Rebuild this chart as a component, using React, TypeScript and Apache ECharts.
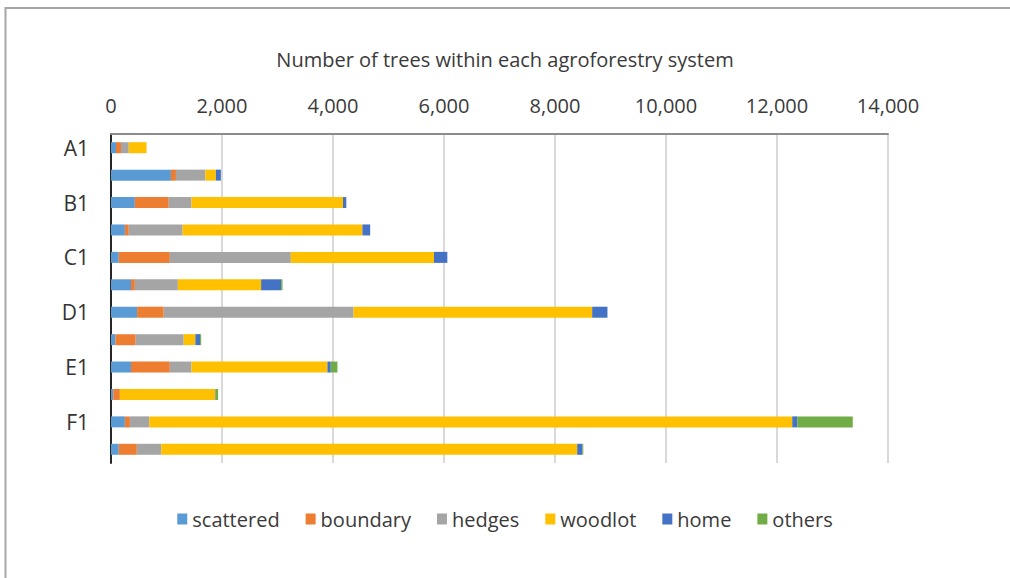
import React, { useEffect, useRef } from "react";
import * as echarts from "echarts";

// Agroforestry systems, top to bottom
const systems = ["A1", "A2", "B1", "B2", "C1", "C2", "D1", "D2", "E1", "E2", "F1", "F2"];

// Number of trees per planting arrangement
const scattered = [90, 1080, 430, 250, 140, 360, 470, 80, 360, 40, 250, 140];
const boundary = [90, 90, 610, 70, 920, 70, 480, 365, 700, 120, 90, 325];
const hedges = [140, 530, 410, 970, 2180, 775, 3420, 865, 390, 0, 350, 440];
const woodlot = [320, 190, 2730, 3240, 2580, 1500, 4300, 210, 2450, 1720, 11585, 7495];
const home = [0, 90, 60, 140, 240, 360, 275, 85, 60, 10, 90, 95];
const others = [0, 0, 0, 0, 0, 25, 0, 20, 120, 40, 1000, 15];

const xTicks = { min: 0, max: 14000, interval: 2000 };

const seriesDefs = [
  { name: "scattered", data: scattered, color: "#5B9BD5" },
  { name: "boundary", data: boundary, color: "#ED7D31" },
  { name: "hedges", data: hedges, color: "#A5A5A5" },
  { name: "woodlot", data: woodlot, color: "#FFC000" },
  { name: "home", data: home, color: "#4472C4" },
  { name: "others", data: others, color: "#70AD47" },
];

const FONT = "'Open Sans', 'Noto Sans', sans-serif";

export default function App() {
  const ref = useRef<HTMLDivElement>(null);

  useEffect(() => {
    if (!ref.current) return;
    const chart = echarts.init(ref.current, undefined, { renderer: "svg" });
    chart.setOption({
      animation: false,
      backgroundColor: "#ffffff",
      textStyle: { fontFamily: FONT },
      title: {
        text: "Number of trees within each agroforestry system",
        left: "center",
        top: 44,
        textStyle: { fontSize: 20, fontWeight: "normal", color: "#3a3a3a", fontFamily: FONT },
      },
      graphic: [
        {
          type: "rect",
          shape: { x: 5.5, y: 8, width: 1020, height: 600 },
          style: { fill: "none", stroke: "#a6a6a6", lineWidth: 2 },
          silent: true,
        },
      ],
      legend: {
        bottom: 44,
        left: "center",
        icon: "rect",
        itemWidth: 10,
        itemHeight: 11,
        itemGap: 26,
        textStyle: { fontSize: 20, color: "#3a3a3a", fontFamily: FONT },
        data: seriesDefs.map((s) => s.name),
      },
      grid: { left: 111, right: 122, top: 134, bottom: 115, containLabel: false },
      xAxis: {
        type: "value",
        position: "top",
        min: xTicks.min,
        max: xTicks.max,
        interval: xTicks.interval,
        axisLine: { show: true, lineStyle: { color: "#8c8c8c", width: 2 } },
        axisTick: { show: false },
        splitLine: { show: true, lineStyle: { color: "#d9d9d9", width: 2 } },
        axisLabel: {
          margin: 19,
          fontSize: 20,
          color: "#3a3a3a",
          fontFamily: FONT,
          formatter: (v: number) => v.toLocaleString("en-US"),
        },
      },
      yAxis: {
        type: "category",
        inverse: true,
        data: systems,
        axisLine: { show: true, lineStyle: { color: "#262626", width: 2 } },
        axisTick: { show: false },
        axisLabel: {
          interval: 1,
          margin: 22,
          fontSize: 21,
          color: "#333333",
          fontFamily: FONT,
        },
      },
      series: seriesDefs.map((s) => ({
        name: s.name,
        type: "bar",
        stack: "total",
        barWidth: 11,
        data: s.data,
        itemStyle: { color: s.color },
      })),
    });
    return () => chart.dispose();
  }, []);

  return (
    <div
      ref={ref}
      style={{ position: "fixed", left: 0, top: 0, width: 1010, height: 578, background: "#fff" }}
    />
  );
}
